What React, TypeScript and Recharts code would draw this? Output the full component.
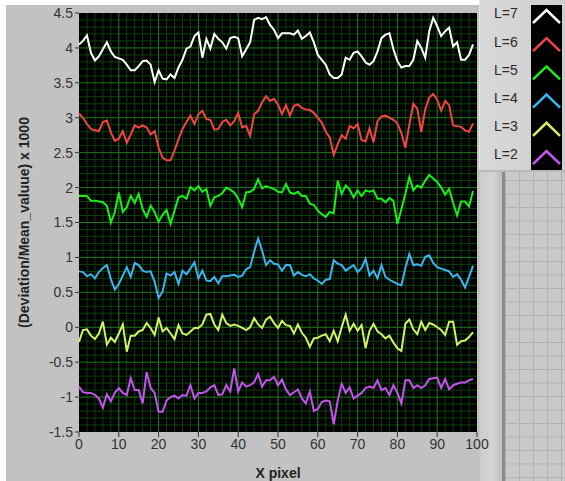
import React from 'react';
import { LineChart, Line, XAxis, YAxis, CartesianGrid, Legend, Label } from 'recharts';

const xPixels = Array.from({ length: 100 }, (_, i) => i);

const l7 = [
  4.05, 4.1, 4.18, 3.93, 3.82, 3.88, 3.98, 4.08, 3.95, 3.87,
  3.85, 3.83, 3.76, 3.68, 3.68, 3.74, 3.81, 3.82, 3.76, 3.51,
  3.68, 3.56, 3.55, 3.62, 3.57, 3.72, 3.83, 3.99, 4.02, 4.17,
  4.22, 3.86, 4.13, 3.99, 4.2, 4.13, 4.08, 3.99, 4.14, 4.16,
  4.14, 3.88, 3.98, 4.08, 4.4, 4.43, 4.41, 4.44, 4.33, 4.26,
  4.14, 4.21, 4.21, 4.21, 4.19, 4.25, 4.13, 4.17, 4.22, 4.08,
  3.9, 3.83, 3.76, 3.62, 3.57, 3.57, 3.62, 3.86, 3.83, 3.93,
  3.95, 3.88, 3.79, 3.76, 3.81, 3.95, 4.14, 4.19, 4.21, 3.98,
  3.81, 3.72, 3.74, 3.74, 3.83, 4.1, 4.0, 3.86, 4.24, 4.43,
  4.31, 4.17, 4.24, 4.29, 4.02, 4.08, 3.83, 3.83, 3.9, 4.05,
];

const l6 = [
  3.06, 3.0, 2.91, 2.84, 2.82, 2.81, 2.94, 2.96, 2.79, 2.67,
  2.7, 2.81, 2.64, 2.76, 2.89, 2.86, 2.89, 2.86, 2.76, 2.81,
  2.57, 2.43, 2.39, 2.39, 2.53, 2.69, 2.84, 2.94, 3.03, 2.91,
  3.05, 3.1, 2.98, 2.97, 2.83, 2.84, 2.94, 2.97, 2.89, 2.95,
  3.07, 2.86, 2.88, 2.74, 3.05, 3.1, 3.22, 3.31, 3.24, 3.27,
  3.19, 3.05, 3.18, 3.03, 3.17, 3.19, 3.14, 3.12, 3.11, 3.07,
  3.0, 2.93, 2.8, 2.72, 2.47, 2.62, 2.75, 2.7, 2.88, 2.85,
  2.91, 2.68, 2.66, 2.85, 2.65, 2.95, 3.02, 3.03, 3.0, 2.97,
  2.92, 2.78, 2.57, 2.9, 3.2, 3.13, 2.8, 3.12, 3.29, 3.34,
  3.26, 3.1, 3.24, 3.18, 2.89, 2.88, 2.87, 2.82, 2.8, 2.92,
];

const l5 = [
  1.88, 1.88, 1.88, 1.81, 1.81, 1.8, 1.79, 1.74, 1.5, 1.65,
  1.93, 1.65, 1.72, 1.88, 1.78, 1.91, 1.69, 1.58, 1.74, 1.65,
  1.51, 1.61, 1.68, 1.48, 1.67, 1.86, 1.88, 1.84, 2.01, 1.96,
  2.02, 1.94, 1.98, 1.74, 1.86, 1.88, 1.92, 2.0, 1.97, 1.93,
  1.84, 1.72, 1.93, 1.94, 1.98, 2.12, 1.99, 2.02, 2.0, 1.98,
  1.94, 1.93, 2.05, 1.93, 1.91, 1.94, 1.88, 1.88, 1.77, 1.75,
  1.67, 1.62, 1.58, 1.65, 1.63, 2.1, 1.91, 2.03, 1.97, 1.86,
  1.96, 1.88, 1.96, 1.94, 1.96, 1.84, 1.84, 1.79, 1.85, 1.81,
  1.48, 1.69, 1.91, 2.15, 1.96, 2.03, 2.0, 2.1, 2.18, 2.13,
  2.08, 2.0, 1.9, 1.98, 1.78, 1.6, 1.8, 1.8, 1.73, 1.95,
];

const l4 = [
  0.8, 0.79, 0.73, 0.76, 0.7, 0.79, 0.85, 0.89, 0.69, 0.54,
  0.62, 0.74, 0.86, 0.72, 0.92, 0.89, 0.81, 0.79, 0.8, 0.65,
  0.42, 0.51, 0.77, 0.74, 0.79, 0.62, 0.81, 0.76, 0.84, 0.93,
  0.7, 0.81, 0.67, 0.66, 0.72, 0.63, 0.73, 0.73, 0.74, 0.75,
  0.72, 0.74, 0.83, 0.86, 1.08, 1.27, 1.1, 0.89, 0.96, 0.91,
  0.9, 0.81, 0.89, 0.89, 0.74, 0.79, 0.75, 0.73, 0.76, 0.7,
  0.67, 0.62, 0.68, 0.69, 0.96, 0.91, 0.89, 0.81, 0.85, 0.89,
  0.79, 0.85, 0.98, 0.74, 0.81, 0.7, 0.89, 0.72, 0.68, 0.65,
  0.62, 0.6, 0.85, 1.05, 0.89, 0.9, 0.88, 1.01, 1.03, 0.92,
  0.86, 0.84, 0.82, 0.8, 0.72, 0.76, 0.68, 0.57, 0.72, 0.88,
];

const l3 = [
  -0.21, -0.04, -0.03, -0.12, -0.17, -0.09, 0.08, -0.25, -0.15, -0.21,
  -0.09, 0.04, -0.35, -0.12, -0.12, -0.06, -0.04, 0.06, -0.01, -0.11,
  0.14, -0.06, -0.01, -0.09, -0.17, 0.03, -0.09, -0.11, -0.06, -0.01,
  -0.01, 0.04, 0.18, 0.19, 0.04, -0.04, 0.18, 0.06, 0.02, 0.04,
  0.02, -0.01, -0.04, 0.0, 0.13, 0.04, -0.01, 0.11, 0.15, 0.06,
  -0.01, 0.09, 0.03, 0.02, -0.09, 0.04, -0.08, -0.15, -0.28, -0.16,
  -0.15, -0.12, -0.1, -0.2, -0.05, -0.2, 0.0, 0.18, -0.05, 0.05,
  -0.05, 0.03, -0.3, -0.05, 0.05, -0.06, -0.1, -0.16, -0.12, -0.22,
  -0.3, -0.34, 0.05, 0.11, -0.03, -0.1, 0.08, -0.04, 0.06, 0.04,
  0.0, -0.04, -0.11, 0.08, 0.08, -0.25, -0.2, -0.19, -0.14, -0.07,
];

const l2 = [
  -0.85, -0.93, -0.94, -0.94, -0.97, -1.02, -1.15, -0.96, -1.06, -0.94,
  -0.87, -0.94, -0.97, -0.73, -0.9, -0.9, -1.09, -0.64, -0.87, -0.94,
  -1.21, -1.21, -1.05, -1.0, -0.98, -1.02, -0.97, -0.98, -0.83, -1.02,
  -0.94, -0.94, -0.92, -0.86, -0.83, -0.97, -0.96, -0.83, -0.92, -0.59,
  -0.92, -0.79, -0.85, -0.83, -0.79, -0.67, -0.85, -0.76, -0.76, -0.71,
  -0.83, -0.75, -0.89, -0.97, -0.93, -0.89, -1.02, -1.09, -0.92, -1.2,
  -1.17, -1.07, -1.05, -1.06, -1.39, -1.05, -0.81, -0.94, -0.86, -1.02,
  -0.98, -0.94, -0.87, -0.85, -0.87, -0.76, -0.9, -0.87, -0.97, -0.83,
  -0.94, -1.09, -0.76, -0.76, -0.87, -0.83, -0.87, -0.83, -0.74, -0.73,
  -0.72, -0.87, -0.74, -0.89, -0.83, -0.81, -0.79, -0.79, -0.76, -0.74,
];

const xTicks = [0, 10, 20, 30, 40, 50, 60, 70, 80, 90, 100];
const yTicks = [-1.5, -1, -0.5, 0, 0.5, 1, 1.5, 2, 2.5, 3, 3.5, 4, 4.5];

const series = [
  { key: 'l7', name: 'L=7', color: '#ffffff', values: l7 },
  { key: 'l6', name: 'L=6', color: '#f24444', values: l6 },
  { key: 'l5', name: 'L=5', color: '#1aee1a', values: l5 },
  { key: 'l4', name: 'L=4', color: '#3cb4ee', values: l4 },
  { key: 'l3', name: 'L=3', color: '#d4f064', values: l3 },
  { key: 'l2', name: 'L=2', color: '#c254ee', values: l2 },
];

const data = xPixels.map((x, i) => {
  const row: any = { x };
  series.forEach((s) => { row[s.key] = s.values[i]; });
  return row;
});

const Y_MIN = -1.5;
const Y_MAX = 4.5;
const X_MIN = 0;
const X_MAX = 100;

const minorYVals: number[] = [];
for (let k = -14; k <= 44; k++) { if (k % 5 !== 0) minorYVals.push(k / 10); }
const minorXVals: number[] = [];
for (let k = 2; k < 100; k += 2) { if (k % 10 !== 0) minorXVals.push(k); }
const majorYVals = yTicks.filter((v) => v > Y_MIN && v < Y_MAX);
const majorXVals = xTicks.filter((v) => v > X_MIN && v < X_MAX);

const makeH = (vals: number[]) => (args: any) => {
  const { yAxis, offset } = args || {};
  return vals.map((v) =>
    yAxis && typeof yAxis.scale === 'function'
      ? yAxis.scale(v)
      : offset.top + (offset.height * (Y_MAX - v)) / (Y_MAX - Y_MIN)
  );
};
const makeV = (vals: number[]) => (args: any) => {
  const { xAxis, offset } = args || {};
  return vals.map((v) =>
    xAxis && typeof xAxis.scale === 'function'
      ? xAxis.scale(v)
      : offset.left + (offset.width * (v - X_MIN)) / (X_MAX - X_MIN)
  );
};

const FONT = '"Liberation Sans", Arial, sans-serif';

const renderLegend = () => {
  const rowH = 28.2;
  return (
    <div
      style={{
        position: 'relative',
        width: 86,
        height: 172,
        background: 'linear-gradient(to right, #d8d8d8, #cfcfcf)',
        boxShadow: 'inset 0 -2px 0 #b8b8b8, inset 1px 0 0 #e4e4e4',
        fontFamily: FONT,
      }}
    >
      {series.map((s, i) => (
        <div
          key={s.key}
          style={{
            position: 'absolute',
            left: 15,
            top: 13.3 + rowH * i - 9,
            height: 18,
            lineHeight: '18px',
            fontSize: 14,
            color: '#2a2a2a',
          }}
        >
          {s.name}
        </div>
      ))}
      <svg
        width={31}
        height={165}
        style={{ position: 'absolute', left: 52, top: 5, background: '#000' }}
      >
        {series.map((s, i) => {
          const cy = 11 + rowH * i;
          return (
            <polyline
              key={s.key}
              points={`2,${cy + 7} 15.5,${cy - 6} 29,${cy + 7}`}
              fill="none"
              stroke={s.color}
              strokeWidth={2.5}
            />
          );
        })}
      </svg>
    </div>
  );
};

export default function App() {
  return (
    <div
      style={{
        position: 'absolute',
        left: 0,
        top: 0,
        width: 565,
        height: 481,
        background: '#ffffff',
        overflow: 'hidden',
        fontFamily: FONT,
      }}
    >
      <div style={{ position: 'absolute', left: 6, top: 5, width: 559, height: 476, background: '#c2c2c2' }} />
      <div
        style={{
          position: 'absolute',
          left: 480,
          top: 172,
          width: 22,
          height: 309,
          background: 'linear-gradient(to right, #cdcdcd, #d4d4d4 60%, #bdbdbd)',
        }}
      />
      <div style={{ position: 'absolute', left: 502, top: 172, width: 3, height: 309, background: '#8a8a8a' }} />
      <div
        style={{
          position: 'absolute',
          left: 505,
          top: 172,
          width: 60,
          height: 309,
          backgroundColor: '#c9c9c9',
          backgroundImage:
            'linear-gradient(#b3b3b3 1px, transparent 1px), linear-gradient(90deg, #b3b3b3 1px, transparent 1px)',
          backgroundSize: '14px 13.5px',
          backgroundPosition: '0 8px',
        }}
      />
      <div style={{ position: 'absolute', left: 0, top: 0 }}>
        <LineChart
          width={565}
          height={481}
          data={data}
          margin={{ top: 13, right: 88, left: 0, bottom: 0 }}
        >
          <CartesianGrid
            fill="#000000"
            fillOpacity={1}
            stroke="#0c400c"
            strokeWidth={1}
            horizontalCoordinatesGenerator={makeH(minorYVals)}
            verticalCoordinatesGenerator={makeV(minorXVals)}
          />
          <CartesianGrid
            stroke="#1e7a1e"
            strokeWidth={1}
            horizontalCoordinatesGenerator={makeH(majorYVals)}
            verticalCoordinatesGenerator={makeV(majorXVals)}
          />
          <XAxis
            dataKey="x"
            type="number"
            domain={[X_MIN, X_MAX]}
            ticks={xTicks}
            interval={0}
            height={49}
            axisLine={false}
            tickSize={5}
            tickLine={{ stroke: '#333333' }}
            tick={{ fontSize: 14, fill: '#333333', fontFamily: FONT }}
          >
            <Label
              value="X pixel"
              position="insideBottom"
              offset={3}
              style={{ fontSize: 14, fontWeight: 'bold', fill: '#222222', fontFamily: FONT }}
            />
          </XAxis>
          <YAxis
            type="number"
            domain={[Y_MIN, Y_MAX]}
            ticks={yTicks}
            interval={0}
            width={79}
            axisLine={false}
            tickSize={4}
            tickLine={{ stroke: '#333333' }}
            tick={{ fontSize: 14, fill: '#333333', fontFamily: FONT }}
          >
            <Label
              value="(Deviation/Mean_valuue) x 1000"
              angle={-90}
              position="insideLeft"
              offset={24}
              style={{ textAnchor: 'middle', fontSize: 14, fontWeight: 'bold', fill: '#222222', fontFamily: FONT }}
            />
          </YAxis>
          <Legend
            layout="horizontal"
            verticalAlign="middle"
            align="center"
            content={renderLegend}
            wrapperStyle={{ left: 479, top: 0, width: 86, height: 172 }}
          />
          {series.map((s) => (
            <Line
              key={s.key}
              dataKey={s.key}
              name={s.name}
              type="linear"
              stroke={s.color}
              strokeWidth={2}
              dot={false}
              activeDot={false}
              isAnimationActive={false}
            />
          ))}
        </LineChart>
      </div>
    </div>
  );
}
